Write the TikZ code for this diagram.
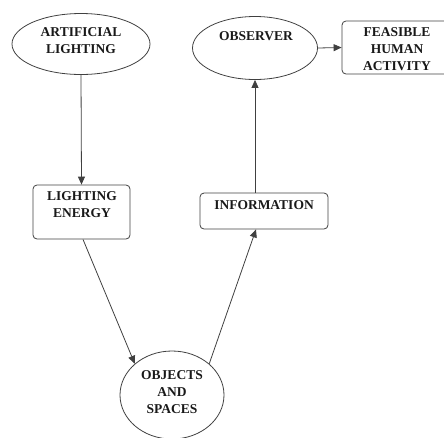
\documentclass[tikz,border=0pt]{standalone}
\usepackage{fontspec}
\setmainfont{Liberation Serif}
\usetikzlibrary{shapes.geometric,arrows.meta,calc}
\begin{document}
\begin{tikzpicture}[x=1pt,y=-1pt,
  line/.style={draw=black!75,line width=0.8pt},
  oval/.style={line,ellipse,inner sep=0pt},
  rbox/.style={line,rectangle,rounded corners=4pt,inner sep=0pt},
  lbl/.style={font=\fontsize{13.5}{17}\selectfont\bfseries,align=center,text=black!90,inner sep=0pt},
  conn/.style={draw=black!75,line width=0.8pt,-{Triangle[length=8pt,width=7pt]}}]
\useasboundingbox (0,0) rectangle (444,437);
% shapes
\node[oval,minimum width=138pt,minimum height=61pt] (art) at (81,44) {};
\node[oval,minimum width=125pt,minimum height=63pt] (obs) at (255,48) {};
\node[rbox,minimum width=110pt,minimum height=53pt] (feas) at (397,47.5) {};
\node[rbox,minimum width=97pt,minimum height=54pt] (le) at (81.5,212) {};
\node[rbox,minimum width=128pt,minimum height=36pt] (info) at (264,211) {};
\node[oval,minimum width=104pt,minimum height=88pt] (obj) at (172,395) {};
% texts
\node[lbl] (tart) at (81,41) {ARTIFICIAL\\LIGHTING};
\node[lbl] (tobs) at (256,36) {OBSERVER};
\node[lbl] (tfeas) at (397,49) {FEASIBLE\\HUMAN\\ACTIVITY};
\node[lbl] (tle) at (82,205) {LIGHTING\\ENERGY};
\node[lbl] (tinfo) at (264,205) {INFORMATION};
\node[lbl] (tobj) at (172,392) {OBJECTS\\AND\\SPACES};
% connectors
\draw[conn] (art.south) -- (le.north);
\draw[conn] ($(le.south)+(1.5,0)$) -- (obj.140);
\draw[conn] (obj.40) -- ($(info.south)+(-8,0)$);
\draw[conn] (info.north -| obs.south) -- (obs.south);
\draw[conn] (obs.east) -- (feas.west);
\end{tikzpicture}
\end{document}
